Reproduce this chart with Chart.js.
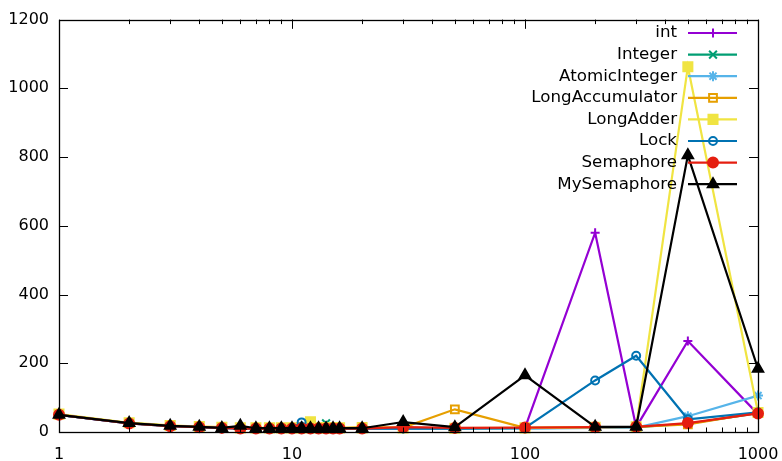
<!DOCTYPE html>
<html>
<head>
<meta charset="utf-8">
<script src="https://cdn.jsdelivr.net/npm/chart.js@4.4.1/dist/chart.umd.min.js"></script>
<style>
  html, body { margin: 0; padding: 0; background: #fff; }
  #wrap { width: 782px; height: 461px; }
</style>
</head>
<body>
<div id="wrap"><canvas id="benchChart"></canvas></div>
<script>
// thread counts (log x axis)
const threads = [1, 2, 3, 4, 5, 6, 7, 8, 9, 10, 11, 12, 13, 14, 15, 16, 20, 30, 50, 100, 200, 300, 500, 1000];
const xTicks = [1, 10, 100, 1000];
const yTicks = [0, 200, 400, 600, 800, 1000, 1200];

// one array per counter implementation
const intTimes        = [50, 25, 18, 15, 12, 11, 10, 10, 10, 10, 10, 10, 10, 10, 10, 10, 10, 12, 11, 12, 580, 14, 265, 52];
const integerTimes    = [50, 26, 18, 15, 13, 11, 10, 10, 10, 10, 10, 11, 12, 25, 10, 10, 10, 11, 10, 11, 13, 14, 24, 55];
const atomicTimes     = [50, 25, 17, 14, 12, 10, 9, 9, 9, 9, 9, 9, 9, 9, 9, 9, 9, 9, 9, 10, 12, 13, 46, 106];
const accumTimes      = [51, 26, 18, 15, 14, 11, 11, 11, 11, 11, 11, 11, 11, 11, 11, 11, 14, 13, 66, 12, 14, 15, 22, 56];
const adderTimes      = [52, 27, 19, 16, 14, 12, 12, 12, 12, 12, 12, 30, 12, 12, 12, 12, 12, 12, 11, 12, 14, 15, 1063, 57];
const lockTimes       = [50, 25, 17, 14, 12, 10, 10, 10, 11, 11, 28, 11, 10, 10, 10, 10, 10, 10, 10, 12, 150, 222, 37, 57];
const semaphoreTimes  = [50, 25, 17, 14, 12, 10, 10, 10, 10, 10, 10, 10, 10, 10, 10, 10, 10, 14, 12, 13, 14, 15, 26, 54];
const mySemTimes      = [50, 26, 18, 15, 12, 18, 11, 11, 11, 11, 11, 11, 11, 11, 11, 11, 11, 29, 14, 165, 15, 15, 805, 184];

const FONT = 'DejaVu Sans';

function series(label, values, color, style, radius, open) {
    return {
        label: label,
        data: threads.map((t, i) => ({ x: t, y: values[i] })),
        borderColor: color,
        backgroundColor: color,
        borderWidth: 2.2,
        pointStyle: style,
        pointRadius: radius,
        pointBorderWidth: 2,
        pointBorderColor: color,
        pointBackgroundColor: open ? 'rgba(0,0,0,0)' : color,
        tension: 0,
        clip: false
    };
}

const datasets = [
    series('int', intTimes, '#9400d3', 'cross', 4.5, false),
    series('Integer', integerTimes, '#009e73', 'crossRot', 5.5, false),
    series('AtomicInteger', atomicTimes, '#56b4e9', 'star', 5, false),
    series('LongAccumulator', accumTimes, '#e69f00', 'rect', 5.5, true),
    series('LongAdder', adderTimes, '#f0e442', 'rect', 6.4, false),
    series('Lock', lockTimes, '#0072b2', 'circle', 4, true),
    series('Semaphore', semaphoreTimes, '#e51e10', 'circle', 5, false),
    series('MySemaphore', mySemTimes, '#000000', 'triangle', 6, false)
];
// later series are drawn on top
datasets.forEach((d, i) => { d.order = datasets.length - i; });

// box, mirrored inward ticks and the legend inside the plot
const framePlugin = {
    id: 'frame',
    afterDatasetsDraw(chart) {
        const { ctx, chartArea: a, scales } = chart;
        const x = scales.x, y = scales.y;
        ctx.save();
        ctx.strokeStyle = '#000';
        ctx.lineWidth = 1;
        ctx.beginPath();
        yTicks.forEach(v => {
            const py = Math.round(y.getPixelForValue(v)) + 0.5;
            ctx.moveTo(a.left, py); ctx.lineTo(a.left + 9, py);
            ctx.moveTo(a.right, py); ctx.lineTo(a.right - 9, py);
        });
        [1, 10, 100].forEach(dec => {
            for (let m = 1; m <= 10; m++) {
                const px = Math.round(x.getPixelForValue(dec * m)) + 0.5;
                const len = (m === 1 || m === 10) ? 9 : 4.5;
                ctx.moveTo(px, a.bottom); ctx.lineTo(px, a.bottom - len);
                ctx.moveTo(px, a.top); ctx.lineTo(px, a.top + len);
            }
        });
        ctx.stroke();
        ctx.lineWidth = 1.3;
        ctx.strokeRect(Math.round(a.left) + 0.5, Math.round(a.top) + 0.5,
            Math.round(a.right - a.left), Math.round(a.bottom - a.top));

        // legend
        ctx.font = '16.7px "' + FONT + '"';
        ctx.textAlign = 'right';
        ctx.textBaseline = 'middle';
        datasets.forEach((d, i) => {
            const ly = 33 + i * 21.6;
            ctx.fillStyle = '#000';
            ctx.fillText(d.label, 677, ly);
            ctx.strokeStyle = d.borderColor;
            ctx.lineWidth = 2.2;
            ctx.beginPath();
            ctx.moveTo(688, ly); ctx.lineTo(737, ly);
            ctx.stroke();
            ctx.lineWidth = d.pointBorderWidth;
            ctx.fillStyle = d.pointBackgroundColor;
            Chart.helpers.drawPoint(ctx, {
                pointStyle: d.pointStyle,
                radius: d.pointRadius,
                rotation: 0,
                borderWidth: d.pointBorderWidth
            }, 713, ly);
        });
        ctx.restore();
    }
};

const ctx = document.getElementById('benchChart').getContext('2d');
new Chart(ctx, {
    type: 'line',
    data: { datasets: datasets },
    plugins: [framePlugin],
    options: {
        responsive: true,
        maintainAspectRatio: false,
        animation: false,
        layout: { padding: { top: 15, right: 24, left: 0, bottom: 0 } },
        plugins: {
            legend: { display: false },
            tooltip: { enabled: false }
        },
        scales: {
            x: {
                type: 'logarithmic',
                min: 1,
                max: 1000,
                grid: { display: false, drawTicks: false },
                border: { display: false },
                afterBuildTicks: (scale) => { scale.ticks = xTicks.map(v => ({ value: v })); },
                afterFit: (scale) => {
                    scale.height = 29;
                    scale.paddingLeft = 0;
                    scale.paddingRight = 0;
                },
                ticks: {
                    autoSkip: false,
                    maxRotation: 0,
                    padding: 13,
                    color: '#000',
                    font: { family: FONT, size: 16 },
                    callback: (v) => String(v)
                }
            },
            y: {
                min: 0,
                max: 1200,
                grid: { display: false, drawTicks: false },
                border: { display: false },
                afterBuildTicks: (scale) => { scale.ticks = yTicks.map(v => ({ value: v })); },
                afterFit: (scale) => { scale.width = 59; },
                ticks: {
                    padding: 10,
                    color: '#000',
                    font: { family: FONT, size: 16 },
                    callback: (v) => String(v)
                }
            }
        }
    }
});
</script>
</body>
</html>
